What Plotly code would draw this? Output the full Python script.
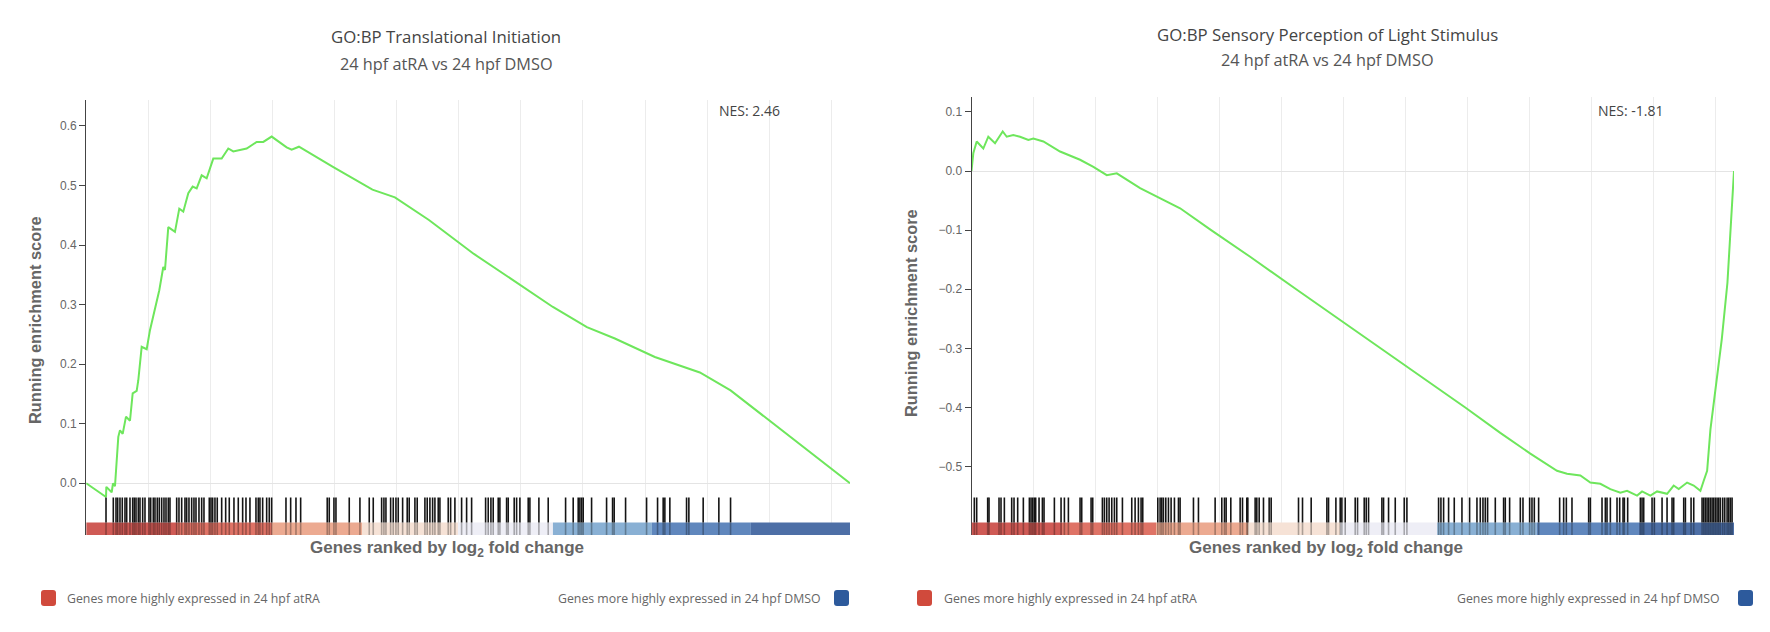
import plotly.graph_objects as go

# ---------------- data ----------------
N_GENES = 24600

left_title = "GO:BP Translational Initiation"
right_title = "GO:BP Sensory Perception of Light Stimulus"
subtitle = "24 hpf atRA vs 24 hpf DMSO"
left_nes = "NES: 2.46"
right_nes = "NES: -1.81"
legend_up = "Genes more highly expressed in 24 hpf atRA"
legend_down = "Genes more highly expressed in 24 hpf DMSO"

left_hits = [638, 873, 960, 1014, 1088, 1162, 1249, 1304, 1410, 1497, 1549, 1604, 1678, 1732, 1819, 1893,
             2022, 2077, 2161, 2215, 2289, 2354, 2431, 2505, 2570, 2644, 2698, 2914, 2988, 3075, 3181, 3236,
             3310, 3397, 3471, 3536, 3632, 3719, 3793, 3964, 4019, 4073, 4147, 4221, 4363, 4492, 4608, 4759,
             4898, 5039, 5146, 5274, 5468, 5542, 5596, 5683, 5812, 5896, 5973, 6434, 6585, 6756, 6907, 7763,
             7828, 7979, 8044, 8472, 8816, 9116, 9245, 9515, 9589, 9654, 9805, 9889, 9976, 10050, 10191,
             10339, 10404, 10587, 10661, 10909, 10983, 11070, 11157, 11231, 11338, 11392, 11660, 11737,
             11875, 12091, 12252, 12413, 12864, 12948, 13035, 13109, 13270, 13324, 13540, 13592, 13785,
             13862, 13968, 14236, 14290, 14580, 14880, 15440, 15685, 15846, 15900, 15955, 16007, 16277,
             16760, 16953, 17005, 17372, 18048, 18402, 18583, 18637, 18798, 19336, 19410, 19871, 20376, 20753]

left_rank = [0, 638, 648, 821, 863, 927, 1034, 1088, 1175, 1282, 1410, 1497, 1626, 1678, 1787, 1948, 2054,
             2215, 2354, 2483, 2537, 2644, 2859, 2998, 3127, 3288, 3429, 3558, 3719, 3880, 4093, 4363, 4576,
             4737, 4952, 5168, 5490, 5703, 5973, 6134, 6456, 6617, 6852, 7947, 9219, 9943, 11038, 12487,
             13582, 15031, 16126, 17027, 18315, 19764, 20753, 24600]
left_es = [0.000, -0.023, -0.006, -0.015, 0.000, -0.005, 0.078, 0.089, 0.083, 0.112, 0.105, 0.151, 0.155,
           0.173, 0.229, 0.225, 0.257, 0.291, 0.324, 0.363, 0.358, 0.430, 0.422, 0.461, 0.456, 0.487, 0.498,
           0.495, 0.517, 0.512, 0.545, 0.545, 0.562, 0.557, 0.559, 0.562, 0.573, 0.573, 0.582, 0.576, 0.564,
           0.560, 0.565, 0.531, 0.493, 0.480, 0.442, 0.385, 0.347, 0.296, 0.262, 0.243, 0.212, 0.186, 0.156,
           0.000]

right_hits = [91, 167, 522, 565, 888, 952, 1060, 1297, 1372, 1490, 1673, 1867, 1921, 1975, 2028, 2071, 2179,
              2287, 2340, 2674, 2889, 2997, 3126, 3502, 3556, 3858, 3911, 4223, 4288, 4363, 4439, 4525, 4611,
              4686, 4869, 5170, 5278, 5385, 5471, 5525, 6010, 6085, 6139, 6192, 6268, 6354, 6440, 6547, 6677,
              6730, 7161, 7322, 7860, 8075, 8161, 8215, 8366, 8667, 8743, 8882, 8915, 9151, 9205, 9281, 9420,
              9603, 9668, 10550, 10679, 10959, 11465, 11519, 11756, 11895, 11949, 12057, 12379, 12455, 12670,
              12735, 12810, 13240, 13294, 13455, 13671, 13961, 14047, 15069, 15145, 15231, 15392, 15575,
              15823, 16070, 16307, 16414, 16501, 16576, 16651, 16899, 17167, 17221, 17361, 17706, 17792,
              18007, 18082, 18158, 18297, 18975, 19104, 19191, 19373, 19911, 19965, 20342, 20449, 20503,
              20611, 20826, 20912, 21020, 21063, 21170, 21579, 21633, 21687, 21956, 22031, 22279, 22440,
              22601, 22655, 22978, 23032, 23215, 23301, 23570, 23624, 23677, 23731, 23785, 23839, 23893,
              23946, 24000, 24054, 24108, 24162, 24237, 24302, 24377, 24431, 24485, 24538]

right_rank = [0, 58, 168, 381, 542, 759, 1007, 1136, 1349, 1566, 1834, 1995, 2318, 2857, 3502, 3932, 4364,
              4687, 5439, 5978, 6730, 7731, 8990, 10475, 11895, 13186, 14478, 15930, 17060, 18029, 18890,
              19213, 19643, 19965, 20288, 20611, 20934, 21150, 21473, 21634, 21902, 22118, 22441, 22654,
              22816, 23087, 23300, 23516, 23623, 23733, 23840, 24027, 24207, 24388, 24498, 24600]
right_es = [0.000, 0.030, 0.050, 0.038, 0.058, 0.047, 0.067, 0.058, 0.061, 0.058, 0.0525, 0.055, 0.050,
            0.033, 0.019, 0.007, -0.007, -0.004, -0.029, -0.0435, -0.063, -0.100, -0.145, -0.200, -0.252,
            -0.300, -0.348, -0.400, -0.443, -0.478, -0.507, -0.512, -0.515, -0.527, -0.529, -0.538, -0.544,
            -0.541, -0.549, -0.542, -0.549, -0.542, -0.546, -0.532, -0.538, -0.527, -0.532, -0.541, -0.524,
            -0.507, -0.437, -0.361, -0.284, -0.189, -0.093, 0.000]

left_bar_edges = [0, 2924, 5983, 8882, 11973, 15032, 18220, 21408, 24600]
right_bar_edges = [0, 2921, 5955, 8925, 11895, 15026, 18238, 21534, 24600]
bar_colors = ['#cf5a55', '#df7366', '#ecaa91', '#f6e2d6', '#eeeef6', '#89b0d4', '#6087bd', '#4d6fa6']

left_yticks = [0.0, 0.1, 0.2, 0.3, 0.4, 0.5, 0.6]
right_yticks = [-0.5, -0.4, -0.3, -0.2, -0.1, 0.0, 0.1]

# ---------------- layout helpers ----------------
# the page body keeps its default 8 px margin, so the figure is placed at (8, 8)
OFF = 8
WIN_W, WIN_H = 1770, 632
W, H = WIN_W - 2 * OFF, WIN_H - 2 * OFF
GREEN = '#6ee65c'
RED = '#d04a3c'
BLUE = '#2d5a9c'


def px(x):
    return (x - OFF) / W


def py(y):
    return 1 - (y - OFF) / H


def rrect(x0, y0, x1, y1, r, color):
    p = [(x0 + r, y0), (x1 - r, y0), (x1, y0), (x1, y0 + r), (x1, y1 - r), (x1, y1), (x1 - r, y1),
         (x0 + r, y1), (x0, y1), (x0, y1 - r), (x0, y0 + r), (x0, y0), (x0 + r, y0)]
    q = [(px(a), py(b)) for a, b in p]
    path = (f"M{q[0][0]},{q[0][1]} L{q[1][0]},{q[1][1]} Q{q[2][0]},{q[2][1]} {q[3][0]},{q[3][1]} "
            f"L{q[4][0]},{q[4][1]} Q{q[5][0]},{q[5][1]} {q[6][0]},{q[6][1]} L{q[7][0]},{q[7][1]} "
            f"Q{q[8][0]},{q[8][1]} {q[9][0]},{q[9][1]} L{q[10][0]},{q[10][1]} "
            f"Q{q[11][0]},{q[11][1]} {q[12][0]},{q[12][1]} Z")
    return dict(type='path', path=path, xref='paper', yref='paper', fillcolor=color,
                line=dict(width=0), layer='above')


fig = go.Figure()
fig.add_trace(go.Scatter(x=left_rank, y=left_es, mode='lines', line=dict(color=GREEN, width=2),
                         xaxis='x', yaxis='y', showlegend=False, hoverinfo='skip'))
fig.add_trace(go.Scatter(x=right_rank, y=right_es, mode='lines', line=dict(color=GREEN, width=2),
                         xaxis='x2', yaxis='y2', showlegend=False, hoverinfo='skip'))

shapes = []
panels = [
    dict(xr='x', yr='y domain', hits=left_hits, edges=left_bar_edges, h=435.0),
    dict(xr='x2', yr='y2 domain', hits=right_hits, edges=right_bar_edges, h=438.0),
]
for p in panels:
    tick_top = 37.5 / p['h']
    bar_top = 12.5 / p['h']
    for i in range(len(p['edges']) - 1):
        shapes.append(dict(type='rect', xref=p['xr'], yref=p['yr'], x0=p['edges'][i], x1=p['edges'][i + 1],
                           y0=0, y1=bar_top, fillcolor=bar_colors[i], line=dict(width=0), layer='above'))
    for hpos in p['hits']:
        shapes.append(dict(type='line', xref=p['xr'], yref=p['yr'], x0=hpos, x1=hpos, y0=bar_top, y1=tick_top,
                           line=dict(color='#141414', width=1.6), layer='above'))
        shapes.append(dict(type='line', xref=p['xr'], yref=p['yr'], x0=hpos, x1=hpos, y0=0, y1=bar_top,
                           line=dict(color='rgba(0,0,0,0.3)', width=1.6), layer='above'))

# legend swatches
shapes.append(rrect(41, 590, 56, 606, 3, RED))
shapes.append(rrect(834, 590, 849, 606, 3, BLUE))
shapes.append(rrect(917, 590, 932, 606, 3, RED))
shapes.append(rrect(1738, 590, 1753, 606, 3, BLUE))

OPEN = 'Open Sans, sans-serif'
ARIAL = 'Arial, Liberation Sans, sans-serif'

annotations = []


def ann(text, x, y, size, color, family=OPEN, xanchor='center', angle=0, bold=False):
    t = f"<b>{text}</b>" if bold else text
    annotations.append(dict(text=t, x=px(x), y=py(y), xref='paper', yref='paper', showarrow=False,
                            xanchor=xanchor, yanchor='middle', textangle=angle,
                            font=dict(family=family, size=size, color=color)))


ann(left_title, 446, 37, 16.8, '#444')
ann(subtitle, 446, 64, 16.3, '#555')
ann(right_title, 1327, 34, 16.8, '#444')
ann(subtitle, 1327, 60, 16.3, '#555')
ann(left_nes, 749, 111, 14, '#444')
ann(right_nes, 1631, 111, 14, '#444')
ann("Running enrichment score", 35, 320, 16.4, '#666', ARIAL, angle=-90, bold=True)
ann("Running enrichment score", 911, 313, 16.4, '#666', ARIAL, angle=-90, bold=True)
ann("Genes ranked by log<sub>2</sub> fold change", 447, 549, 17, '#666', ARIAL, bold=True)
ann("Genes ranked by log<sub>2</sub> fold change", 1326, 549, 17, '#666', ARIAL, bold=True)
ann(legend_up, 65, 598, 12.3, '#666', xanchor='left')
ann(legend_down, 823, 598, 12.3, '#666', xanchor='right')
ann(legend_up, 942, 598, 12.3, '#666', xanchor='left')
ann(legend_down, 1722, 598, 12.3, '#666', xanchor='right')

xcommon = dict(range=[0, N_GENES], showgrid=True, gridcolor='#ececec', gridwidth=1, dtick=2000, tick0=0,
               showticklabels=False, zeroline=False, showline=False, ticks='', fixedrange=True)
ycommon = dict(showgrid=False, zeroline=True, zerolinecolor='#e4e4e4', zerolinewidth=1, showline=True,
               linecolor='#444', linewidth=1, ticks='outside', ticklen=6, tickcolor='#444',
               tickformat='.1f', tickfont=dict(family=ARIAL, size=12, color='#666'), fixedrange=True)

fig.update_layout(
    width=W, height=H, autosize=False,
    margin=dict(l=0, r=0, t=0, b=0),
    paper_bgcolor='white', plot_bgcolor='white',
    showlegend=False,
    xaxis=dict(domain=[px(86.2), px(850)], anchor='y', **xcommon),
    yaxis=dict(domain=[py(535), py(100)], anchor='x', range=[-0.0868, 0.6434], tickvals=left_yticks,
               **ycommon),
    xaxis2=dict(domain=[px(971.5), px(1734)], anchor='y2', **xcommon),
    yaxis2=dict(domain=[py(535), py(97)], anchor='x2', range=[-0.6157, 0.1252], tickvals=right_yticks,
                **ycommon),
    shapes=shapes,
    annotations=annotations,
)

fig.write_html("out.html")
